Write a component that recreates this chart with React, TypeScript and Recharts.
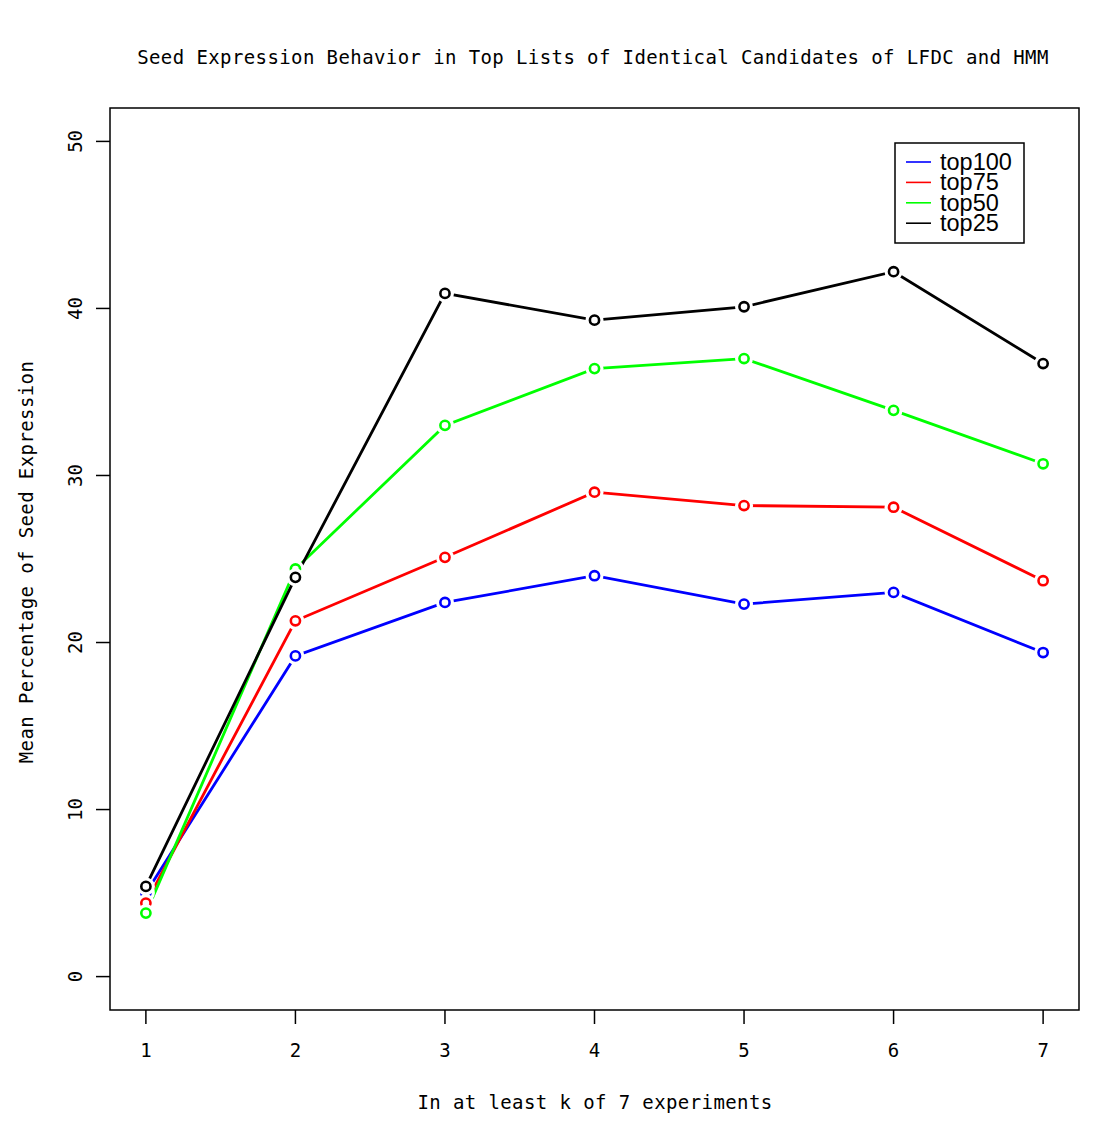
import React from "react";
import { LineChart, Line, XAxis, YAxis, ReferenceArea } from "recharts";

const kValues = [1, 2, 3, 4, 5, 6, 7];
const top100 = [5.0, 19.2, 22.4, 24.0, 22.3, 23.0, 19.4];
const top75 = [4.4, 21.3, 25.1, 29.0, 28.2, 28.1, 23.7];
const top50 = [3.8, 24.4, 33.0, 36.4, 37.0, 33.9, 30.7];
const top25 = [5.4, 23.9, 40.9, 39.3, 40.1, 42.2, 36.7];
const yTicks = [0, 10, 20, 30, 40, 50];
const xTicks = [1, 2, 3, 4, 5, 6, 7];

const seriesDefs = [
  { key: "top100", color: "#0000ff" },
  { key: "top75", color: "#ff0000" },
  { key: "top50", color: "#00ff00" },
  { key: "top25", color: "#000000" },
];

const data = kValues.map((k, i) => ({
  k,
  top100: top100[i],
  top75: top75[i],
  top50: top50[i],
  top25: top25[i],
}));

const MONO = "'DejaVu Sans Mono', monospace";

const makeDot = (color: string) => (props: any) => {
  const { cx, cy, index } = props;
  if (cx == null || cy == null) return <g key={index} />;
  return (
    <g key={index}>
      <circle cx={cx} cy={cy} r={9} fill="#ffffff" stroke="none" />
      <circle cx={cx} cy={cy} r={4.6} fill="#ffffff" stroke={color} strokeWidth={2.6} />
    </g>
  );
};

const YTick = (props: any) => {
  const { y, payload } = props;
  const tx = 75;
  return (
    <text
      x={tx}
      y={y}
      transform={`rotate(-90, ${tx}, ${y})`}
      textAnchor="middle"
      dominantBaseline="central"
      fontFamily={MONO}
      fontSize={19}
      fill="#000"
    >
      {payload.value}
    </text>
  );
};

const XTick = (props: any) => {
  const { x, payload } = props;
  return (
    <text
      x={x}
      y={1050}
      textAnchor="middle"
      dominantBaseline="central"
      fontFamily={MONO}
      fontSize={19}
      fill="#000"
    >
      {payload.value}
    </text>
  );
};

const YLabel = () => {
  const x = 26;
  const y = 562;
  return (
    <text
      x={x}
      y={y}
      transform={`rotate(-90, ${x}, ${y})`}
      textAnchor="middle"
      dominantBaseline="central"
      fontFamily={MONO}
      fontSize={19}
      letterSpacing={0.4}
      fill="#000"
    >
      Mean Percentage of Seed Expression
    </text>
  );
};

const XLabel = () => {
  return (
    <text
      x={595}
      y={1102}
      textAnchor="middle"
      dominantBaseline="central"
      fontFamily={MONO}
      fontSize={19}
      letterSpacing={0.4}
      fill="#000"
    >
      In at least k of 7 experiments
    </text>
  );
};

const LegendBox = () => {
  return (
    <svg
      width={131}
      height={102}
      style={{ position: "absolute", left: 894, top: 142, display: "block" }}
    >
      <rect x={1} y={1} width={129} height={100} fill="#fff" stroke="#000" strokeWidth={1.5} />
      {seriesDefs.map((p, i) => {
        const y = 20 + i * 20.4;
        return (
          <g key={p.key}>
            <line x1={12} x2={37} y1={y} y2={y} stroke={p.color} strokeWidth={1.6} />
            <text
              x={46}
              y={y}
              dominantBaseline="central"
              fontFamily="'Liberation Sans', Arial, sans-serif"
              fontSize={23.5}
              fill="#000"
            >
              {p.key}
            </text>
          </g>
        );
      })}
    </svg>
  );
};

export default function App() {
  return (
    <div style={{ position: "absolute", left: 0, top: 0, width: 1118, height: 1133, background: "#fff" }}>
      <div
        style={{
          position: "absolute",
          left: 0,
          width: 1186,
          top: 45,
          textAlign: "center",
          fontFamily: MONO,
          fontSize: 19,
          letterSpacing: 0.4,
          lineHeight: "24px",
          color: "#000",
          whiteSpace: "pre",
        }}
      >
        Seed Expression Behavior in Top Lists of Identical Candidates of LFDC and HMM
      </div>
      <LineChart
        width={1118}
        height={1133}
        data={data}
        margin={{ top: 108, right: 39, bottom: 0, left: 0 }}
        style={{ position: "absolute", left: 0, top: 0 }}
      >
        <XAxis
          dataKey="k"
          type="number"
          domain={[0.76, 7.24]}
          ticks={xTicks}
          allowDataOverflow
          height={123}
          axisLine={false}
          tickLine={{ stroke: "#000", strokeWidth: 1.5 }}
          tickSize={14}
          tick={<XTick />}
          label={<XLabel />}
        />
        <YAxis
          type="number"
          domain={[-2, 52]}
          ticks={yTicks}
          allowDataOverflow
          width={110}
          axisLine={false}
          tickLine={{ stroke: "#000", strokeWidth: 1.5 }}
          tickSize={14}
          tick={<YTick />}
          label={<YLabel />}
        />
        <ReferenceArea
          x1={0.76}
          x2={7.24}
          y1={-2}
          y2={52}
          fill="none"
          fillOpacity={0}
          stroke="#000"
          strokeWidth={1.5}
          ifOverflow="visible"
        />
        {seriesDefs.map((s) => (
          <Line
            key={s.key}
            dataKey={s.key}
            name={s.key}
            stroke={s.color}
            strokeWidth={2.8}
            dot={makeDot(s.color)}
            activeDot={false}
            isAnimationActive={false}
            type="linear"
          />
        ))}
      </LineChart>
      <LegendBox />
    </div>
  );
}
